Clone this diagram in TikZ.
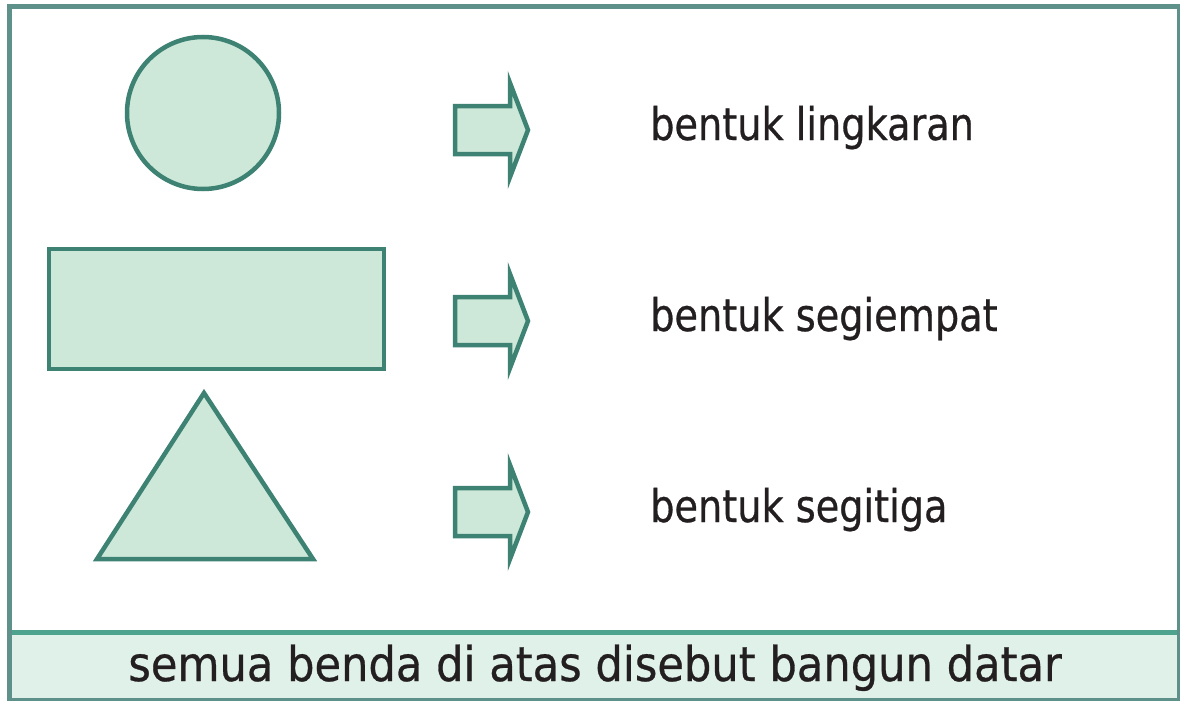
\documentclass[tikz,border=0pt]{standalone}
\usepackage{fontspec}
\setmainfont[FakeStretch=0.85,FakeBold=0.6]{DejaVu Sans}
\newfontfamily\bandfont[FakeStretch=0.9,FakeBold=0.6]{DejaVu Sans}
\usetikzlibrary{positioning}

\definecolor{framegray}{HTML}{5F918B}
\definecolor{bandline}{HTML}{4EA38F}
\definecolor{bandfill}{HTML}{E0F1E9}
\definecolor{shapeline}{HTML}{3D8272}
\definecolor{shapefill}{HTML}{CDE8D8}
\definecolor{inkblack}{HTML}{231F20}

\tikzset{
  flatshape/.style={draw=shapeline,fill=shapefill,line width=4.5pt,line join=miter},
  label text/.style={inner sep=0pt,text=inkblack,font=\fontsize{45}{50}\selectfont}
}

\begin{document}
\begin{tikzpicture}[x=1pt,y=-1pt]
  \useasboundingbox (0,0) rectangle (1180,701);

  % frame and bottom band
  \fill[white] (9,7) rectangle (1178,699);
  \fill[bandfill] (9,633) rectangle (1178,699);
  \draw[bandline,line width=5pt] (9,632.5) -- (1178,632.5);
  \draw[framegray,line width=5pt] (9,6.5) rectangle (1179,700);

  % the three flat shapes
  \draw[flatshape] (203,113) circle (76);
  \draw[flatshape] (49,249) rectangle (384,369);
  \draw[flatshape] (204,393) -- (313,559) -- (97,559) -- cycle;

  % arrows
  \foreach \yc in {130,321,512}
    \draw[flatshape] (455,\yc-24) -- (510,\yc-24) -- (510,\yc-47) -- (528,\yc)
      -- (510,\yc+47) -- (510,\yc+24) -- (455,\yc+24) -- cycle;

  % labels
  \node[label text,anchor=base west] (circletxt) at (650,140) {bentuk lingkaran};
  \node[label text,anchor=base west] (recttxt) at (650,331) {bentuk segiempat};
  \node[label text,anchor=base west] (tritxt) at (650,522) {bentuk segitiga};
  \node[label text,anchor=base,font=\bandfont\fontsize{48}{52}\selectfont] (summary) at (595,681)
    {semua benda di atas disebut bangun datar};
\end{tikzpicture}
\end{document}
